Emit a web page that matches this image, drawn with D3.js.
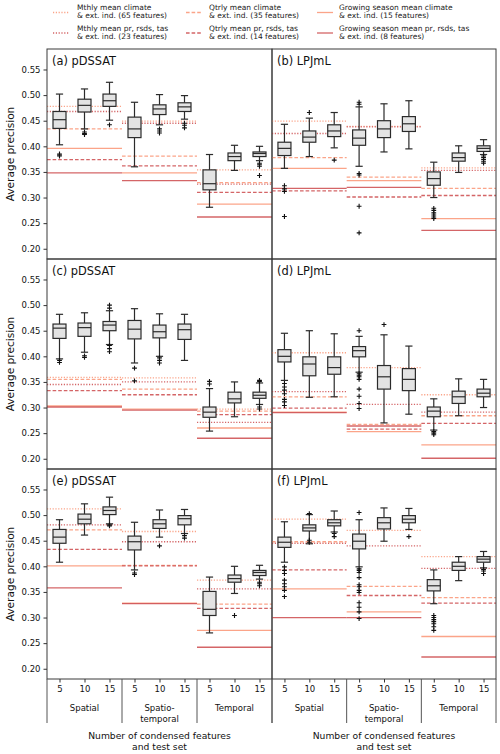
<!DOCTYPE html>
<html>
<head>
<meta charset="utf-8">
<script src="https://cdn.jsdelivr.net/npm/d3@7"></script>
<style>
  body { margin: 0; background: #fff; }
  svg { display: block; font-family: "DejaVu Sans", sans-serif; }
</style>
</head>
<body>
<svg id="chart" width="500" height="754"></svg>
<script>
// ---- data ----
const sizes = [5, 10, 15];
const groups = [["Spatial"], ["Spatio-", "temporal"], ["Temporal"]];
const panelTitles = ["(a) pDSSAT", "(b) LPJmL", "(c) pDSSAT", "(d) LPJmL", "(e) pDSSAT", "(f) LPJmL"];
const yTicks = [0.20, 0.25, 0.30, 0.35, 0.40, 0.45, 0.50, 0.55];
const baselineLabels = [
    ["Mthly mean climate", "& ext. ind. (65 features)"],
    ["Mthly mean pr, rsds, tas", "& ext. ind. (23 features)"],
    ["Qtrly mean climate", "& ext. ind. (35 features)"],
    ["Qtrly mean pr, rsds, tas", "& ext. ind. (14 features)"],
    ["Growing season mean climate", "& ext. ind. (15 features)"],
    ["Growing season mean pr, rsds, tas", "& ext. ind. (8 features)"],
];

// box stats: [whisker low, q1, median, q3, whisker high], order S5,S10,S15,ST5,...,T15
const boxesA = [
    [0.403, 0.435, 0.452, 0.468, 0.502], [0.434, 0.467, 0.480, 0.492, 0.512], [0.451, 0.478, 0.489, 0.502, 0.525],
    [0.360, 0.417, 0.434, 0.457, 0.486], [0.442, 0.462, 0.473, 0.481, 0.501], [0.453, 0.468, 0.477, 0.485, 0.499],
    [0.281, 0.315, 0.327, 0.354, 0.384], [0.353, 0.372, 0.380, 0.387, 0.402], [0.372, 0.380, 0.386, 0.389, 0.400],
];
const outliersA = [
    [0.385, 0.383, 0.381], [0.428, 0.425, 0.423], [0.442],
    [], [0.434, 0.430, 0.426], [0.445, 0.441, 0.436],
    [], [], [0.367, 0.364, 0.361, 0.343],
];
const boxesB = [
    [0.357, 0.382, 0.396, 0.408, 0.443], [0.380, 0.408, 0.418, 0.430, 0.455], [0.397, 0.419, 0.430, 0.442, 0.466],
    [0.361, 0.402, 0.416, 0.432, 0.477], [0.389, 0.417, 0.434, 0.450, 0.483], [0.395, 0.429, 0.444, 0.458, 0.489],
    [0.300, 0.324, 0.337, 0.350, 0.369], [0.349, 0.371, 0.378, 0.387, 0.401], [0.384, 0.390, 0.396, 0.401, 0.413],
];
const outliersB = [
    [0.323, 0.317, 0.312, 0.263], [0.466], [0.373],
    [0.486, 0.482, 0.347, 0.344, 0.283, 0.231], [], [],
    [0.279, 0.275, 0.270, 0.266, 0.262, 0.259], [], [0.381, 0.378, 0.374, 0.370, 0.367],
];
const boxesC = [
    [0.395, 0.435, 0.455, 0.463, 0.482], [0.408, 0.439, 0.456, 0.465, 0.485], [0.423, 0.450, 0.461, 0.468, 0.489],
    [0.387, 0.434, 0.453, 0.470, 0.493], [0.400, 0.436, 0.448, 0.461, 0.483], [0.392, 0.433, 0.452, 0.463, 0.482],
    [0.254, 0.281, 0.291, 0.301, 0.337], [0.282, 0.309, 0.317, 0.330, 0.350], [0.306, 0.318, 0.324, 0.330, 0.348],
];
const outliersC = [
    [0.392, 0.388], [0.401, 0.398], [0.500, 0.494, 0.421, 0.415, 0.409],
    [0.377, 0.352], [0.397, 0.392, 0.387], [],
    [0.351, 0.346], [], [0.353, 0.351, 0.301, 0.297],
];
const boxesD = [
    [0.353, 0.389, 0.400, 0.413, 0.445], [0.320, 0.362, 0.385, 0.399, 0.450], [0.321, 0.365, 0.378, 0.399, 0.444],
    [0.369, 0.399, 0.411, 0.419, 0.439], [0.270, 0.336, 0.360, 0.382, 0.442], [0.287, 0.333, 0.355, 0.376, 0.420],
    [0.256, 0.282, 0.293, 0.301, 0.317], [0.284, 0.308, 0.321, 0.332, 0.356], [0.300, 0.321, 0.328, 0.336, 0.355],
];
const outliersD = [
    [0.347, 0.340, 0.334, 0.327, 0.316, 0.311, 0.304], [], [],
    [0.450, 0.366, 0.363, 0.360, 0.355, 0.336, 0.322, 0.308, 0.298], [0.462], [],
    [0.253, 0.250, 0.247], [], [],
];
const boxesE = [
    [0.408, 0.445, 0.457, 0.472, 0.491], [0.461, 0.483, 0.492, 0.502, 0.522], [0.483, 0.501, 0.509, 0.516, 0.535],
    [0.393, 0.432, 0.448, 0.459, 0.486], [0.457, 0.474, 0.483, 0.491, 0.510], [0.464, 0.481, 0.493, 0.499, 0.511],
    [0.270, 0.304, 0.316, 0.351, 0.379], [0.347, 0.369, 0.376, 0.383, 0.400], [0.375, 0.382, 0.388, 0.392, 0.402],
];
const outliersE = [
    [], [], [0.481, 0.479],
    [0.387, 0.384], [0.440], [0.460, 0.455],
    [], [0.304], [0.369, 0.366, 0.362],
];
const boxesF = [
    [0.408, 0.437, 0.447, 0.457, 0.487], [0.444, 0.469, 0.475, 0.481, 0.501], [0.467, 0.479, 0.485, 0.491, 0.508],
    [0.399, 0.434, 0.449, 0.463, 0.491], [0.449, 0.473, 0.485, 0.495, 0.514], [0.472, 0.485, 0.492, 0.499, 0.513],
    [0.327, 0.352, 0.362, 0.374, 0.393], [0.372, 0.392, 0.400, 0.408, 0.419], [0.397, 0.408, 0.414, 0.419, 0.429],
];
const outliersF = [
    [0.399, 0.392, 0.386, 0.373, 0.366, 0.360, 0.353, 0.341], [0.503, 0.451, 0.447], [0.464, 0.458],
    [0.505, 0.395, 0.392, 0.388, 0.378, 0.364, 0.360, 0.353, 0.349, 0.329, 0.320, 0.311, 0.298], [], [0.458],
    [0.304, 0.300, 0.296, 0.292, 0.288, 0.282, 0.275], [], [0.394, 0.391, 0.386],
];

// baselines per group, order as baselineLabels
const baselinesA = [
    [0.478, 0.468, 0.434, 0.374, 0.396, 0.348],
    [0.449, 0.445, 0.381, 0.362, 0.348, 0.333],
    [0.354, 0.326, 0.329, 0.310, 0.287, 0.262],
];
const baselinesB = [
    [0.449, 0.425, 0.378, 0.313, 0.357, 0.318],
    [0.439, 0.438, 0.340, 0.301, 0.333, 0.320],
    [0.358, 0.353, 0.318, 0.304, 0.259, 0.236],
];
const baselinesC = [
    [0.359, 0.345, 0.355, 0.333, 0.303, 0.301],
    [0.358, 0.350, 0.336, 0.325, 0.297, 0.295],
    [0.297, 0.271, 0.293, 0.286, 0.260, 0.240],
];
const baselinesD = [
    [0.407, 0.331, 0.321, 0.299, 0.291, 0.290],
    [0.378, 0.306, 0.267, 0.258, 0.253, 0.264],
    [0.325, 0.291, 0.284, 0.269, 0.227, 0.201],
];
const baselinesE = [
    [0.512, 0.481, 0.471, 0.433, 0.401, 0.358],
    [0.468, 0.448, 0.402, 0.401, 0.328, 0.327],
    [0.373, 0.356, 0.326, 0.318, 0.275, 0.242],
];
const baselinesF = [
    [0.492, 0.445, 0.448, 0.393, 0.356, 0.300],
    [0.470, 0.440, 0.361, 0.343, 0.311, 0.300],
    [0.419, 0.396, 0.339, 0.328, 0.263, 0.223],
];

const panels = [
    { boxes: boxesA, outliers: outliersA, base: baselinesA },
    { boxes: boxesB, outliers: outliersB, base: baselinesB },
    { boxes: boxesC, outliers: outliersC, base: baselinesC },
    { boxes: boxesD, outliers: outliersD, base: baselinesD },
    { boxes: boxesE, outliers: outliersE, base: baselinesE },
    { boxes: boxesF, outliers: outliersF, base: baselinesF },
];

// ---- styles / layout ----
const LIGHT = "#fb9a7c", DARK = "#cf5457";
const lineStyles = [
    { color: LIGHT, dash: "1.2,1.6" },
    { color: DARK, dash: "1.2,1.6" },
    { color: LIGHT, dash: "3.6,2" },
    { color: DARK, dash: "3.6,2" },
    { color: LIGHT, dash: null },
    { color: DARK, dash: null },
];
const colX = [[47, 272], [272, 496]];
const rowTop = [49, 259, 469];
const panelH = 210;
const axisY = rowTop[2] + panelH;
const boxHalf = 6.5, capHalf = 3.6;

const svg = d3.select("#chart");

function styleLine(sel, s) {
    sel.attr("stroke", s.color)
        .attr("stroke-width", 1.3)
        .attr("stroke-opacity", 0.9)
        .attr("stroke-dasharray", s.dash);
}

panels.forEach((p, k) => {
    const col = k % 2, row = Math.floor(k / 2);
    const top = rowTop[row], bottom = top + panelH;
    const x = d3.scaleLinear().domain([0, 9]).range(colX[col]);
    const y = d3.scaleLinear().domain([0.18, 0.59]).range([bottom, top]);
    const g = svg.append("g");

    // reference lines, one set per test-set group
    p.base.forEach((vals, gi) => {
        vals.forEach((v, si) => {
            g.append("line")
                .attr("x1", x(gi * 3)).attr("x2", x(gi * 3 + 3))
                .attr("y1", y(v)).attr("y2", y(v))
                .call(styleLine, lineStyles[si]);
        });
    });

    // boxes
    p.boxes.forEach((b, i) => {
        const cx = x(i + 0.5);
        const [lo, q1, med, q3, hi] = b;
        const bg = g.append("g").attr("stroke", "#2b2b2b").attr("stroke-width", 1.2);
        bg.append("line").attr("x1", cx).attr("x2", cx).attr("y1", y(hi)).attr("y2", y(q3));
        bg.append("line").attr("x1", cx).attr("x2", cx).attr("y1", y(q1)).attr("y2", y(lo));
        bg.append("line").attr("x1", cx - capHalf).attr("x2", cx + capHalf).attr("y1", y(hi)).attr("y2", y(hi));
        bg.append("line").attr("x1", cx - capHalf).attr("x2", cx + capHalf).attr("y1", y(lo)).attr("y2", y(lo));
        bg.append("rect")
            .attr("x", cx - boxHalf).attr("width", boxHalf * 2)
            .attr("y", y(q3)).attr("height", y(q1) - y(q3))
            .attr("fill", "#e3e3e3");
        bg.append("line").attr("x1", cx - boxHalf).attr("x2", cx + boxHalf).attr("y1", y(med)).attr("y2", y(med));

        g.selectAll(null).data(p.outliers[i]).join("path")
            .attr("d", "M-2.4,0H2.4M0,-2.4V2.4")
            .attr("transform", d => `translate(${cx},${y(d)})`)
            .attr("stroke", "#111").attr("stroke-width", 1.1).attr("fill", "none");
    });

    // frame
    svg.append("rect")
        .attr("x", colX[col][0]).attr("y", top)
        .attr("width", colX[col][1] - colX[col][0]).attr("height", panelH)
        .attr("fill", "none").attr("stroke", "#3a3a3a").attr("stroke-width", 1);

    svg.append("text")
        .attr("x", colX[col][0] + 5).attr("y", top + 16)
        .attr("font-size", 11.4).attr("fill", "#111")
        .text(panelTitles[k]);

    if (col === 0) {
        const ax = svg.append("g")
            .attr("transform", `translate(${colX[0][0]},0)`)
            .call(d3.axisLeft(y).tickValues(yTicks).tickFormat(d3.format(".2f")).tickSize(3.5).tickSizeOuter(0));
        ax.select(".domain").remove();
        ax.selectAll("text").attr("font-size", 8.5).attr("font-family", "DejaVu Sans").attr("fill", "#111");
        ax.selectAll("line").attr("stroke", "#333");

        svg.append("text")
            .attr("transform", `translate(14,${top + panelH / 2}) rotate(-90)`)
            .attr("text-anchor", "middle")
            .attr("font-size", 10.6).attr("fill", "#111")
            .text("Average precision");
    }
});

// bottom axes with group labels
colX.forEach(range => {
    const x = d3.scaleLinear().domain([0, 9]).range(range);
    const ax = svg.append("g")
        .attr("transform", `translate(0,${axisY})`)
        .call(d3.axisBottom(x)
            .tickValues(d3.range(9).map(i => i + 0.5))
            .tickFormat(d => sizes[Math.floor(d) % 3])
            .tickSize(3.5).tickPadding(3));
    ax.select(".domain").remove();
    ax.selectAll("text").attr("font-size", 8.5).attr("font-family", "DejaVu Sans").attr("fill", "#111");
    ax.selectAll("line").attr("stroke", "#333");

    [0, 3, 6, 9].forEach(v => {
        svg.append("line")
            .attr("x1", x(v)).attr("x2", x(v))
            .attr("y1", axisY).attr("y2", 723)
            .attr("stroke", "#555").attr("stroke-width", 1);
    });

    groups.forEach((lines, gi) => {
        const t = svg.append("text")
            .attr("x", x(gi * 3 + 1.5)).attr("y", 711)
            .attr("text-anchor", "middle").attr("font-size", 8.5).attr("fill", "#111");
        lines.forEach((s, li) => t.append("tspan").attr("x", x(gi * 3 + 1.5)).attr("dy", li ? 10.8 : 0).text(s));
    });

    const title = svg.append("text")
        .attr("x", x(4.5)).attr("y", 739)
        .attr("text-anchor", "middle").attr("font-size", 9.2).attr("fill", "#111");
    ["Number of condensed features", "and test set"].forEach((s, li) =>
        title.append("tspan").attr("x", x(4.5)).attr("dy", li ? 11 : 0).text(s));
});

// legend
const legendCols = [{ lx: 53, tx: 77 }, { lx: 186, tx: 209 }, { lx: 317, tx: 339 }];
const legendRows = [{ ly: 12.5, ty: 9.7 }, { ly: 33, ty: 30.5 }];
const legendOrder = [[0, 1], [2, 3], [4, 5]];
legendOrder.forEach((pair, c) => {
    pair.forEach((si, r) => {
        const lc = legendCols[c], lr = legendRows[r];
        svg.append("line")
            .attr("x1", lc.lx).attr("x2", lc.lx + 16)
            .attr("y1", lr.ly).attr("y2", lr.ly)
            .call(styleLine, lineStyles[si]);
        const t = svg.append("text")
            .attr("x", lc.tx).attr("y", lr.ty)
            .attr("font-size", 7.5).attr("fill", "#222");
        baselineLabels[si].forEach((s, li) => t.append("tspan").attr("x", lc.tx).attr("dy", li ? 8.7 : 0).text(s));
    });
});
</script>
</body>
</html>
